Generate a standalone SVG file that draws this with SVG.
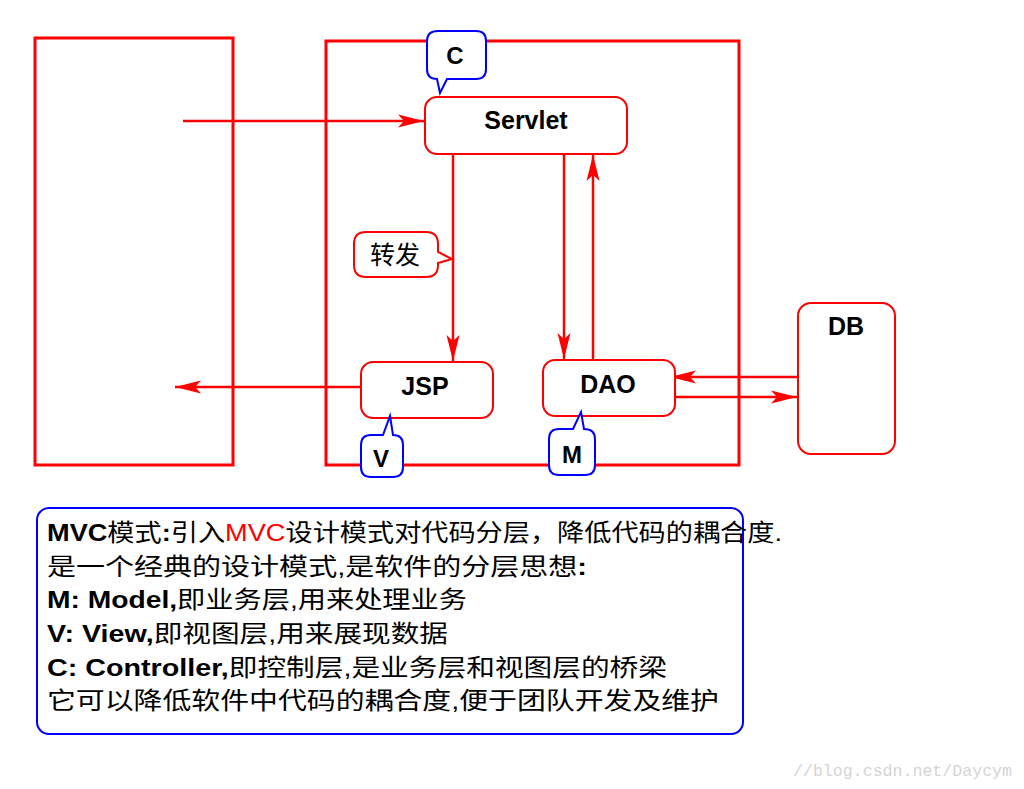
<svg xmlns="http://www.w3.org/2000/svg" width="1024" height="789" viewBox="0 0 1024 789">
<style>
.frame{fill:none;stroke:#ff0000;stroke-width:3}
.node{fill:#ffffff;stroke:#ff0000;stroke-width:2}
.call{fill:#ffffff;stroke:#0000ff;stroke-width:2}
.conn{fill:none;stroke:#ff0000;stroke-width:2.5}
.lbl{font-family:"Liberation Sans","Noto Sans CJK SC",sans-serif;font-weight:bold;font-size:25px;fill:#000;text-anchor:middle}
.cjk{font-family:"Liberation Sans","Noto Sans CJK SC",sans-serif;font-size:25px;fill:#000;text-anchor:middle}
.body{font-family:"Liberation Sans","Noto Sans CJK SC",sans-serif;font-size:24px;fill:#000}
.b{font-weight:bold}
.red{fill:#ff0000}
.wm{font-family:"Liberation Mono","DejaVu Sans Mono",monospace;font-size:16.6px;fill:#d4d4d4}
</style>
<defs>
<marker id="ah" viewBox="-27 -7 28 14" refX="0" refY="0" markerWidth="28" markerHeight="14" markerUnits="userSpaceOnUse" orient="auto">
<path d="M0,0 L-26,-6.5 L-20,0 L-26,6.5 Z" fill="#ff0000"/>
</marker>
</defs>
<rect width="1024" height="789" fill="#ffffff"/>
<g id="client"><rect class="frame" x="35" y="38" width="198" height="427"/></g>
<g id="server"><rect class="frame" x="326" y="41" width="413" height="424"/></g>
<g id="connectors">
<line class="conn" x1="183" y1="121" x2="424" y2="121" marker-end="url(#ah)"/>
<line class="conn" x1="453" y1="155" x2="453" y2="361" marker-end="url(#ah)"/>
<line class="conn" x1="564" y1="155" x2="564" y2="359" marker-end="url(#ah)"/>
<line class="conn" x1="593" y1="359" x2="593" y2="155" marker-end="url(#ah)"/>
<line class="conn" x1="361" y1="387" x2="175" y2="387" marker-end="url(#ah)"/>
<line class="conn" x1="798" y1="377" x2="670" y2="377" marker-end="url(#ah)"/>
<line class="conn" x1="673" y1="397" x2="797" y2="397" marker-end="url(#ah)"/>
</g>
<g id="servlet"><rect class="node" x="425" y="97" width="202" height="57" rx="12"/><text class="lbl" x="526" y="129">Servlet</text></g>
<g id="jsp"><rect class="node" x="361" y="362" width="132" height="56" rx="12"/><text class="lbl" x="425" y="395">JSP</text></g>
<g id="dao"><rect class="node" x="543" y="360" width="132" height="56" rx="12"/><text class="lbl" x="608" y="393">DAO</text></g>
<g id="db"><rect class="node" x="798" y="303" width="97" height="151" rx="13"/><text class="lbl" x="846" y="335">DB</text></g>
<g id="callout-forward"><path class="node" d="M366,232 H426 Q438,232 438,244 V252 L452,259 L438,263 V265 Q438,277 426,277 H366 Q354,277 354,265 V244 Q354,232 366,232 Z"/><text class="cjk" x="395" y="264">转发</text></g>
<g id="callout-c"><path class="call" d="M438,31 H476 Q486,31 486,41 V69 Q486,79 476,79 H447 L440,93 L437,79 Q427,79 427,69 V41 Q427,31 438,31 Z"/><text class="lbl" x="455" y="64" style="font-size:24px">C</text></g>
<g id="callout-v"><path class="call" d="M371,435 H383 L390,416 L393,435 Q403,435 403,445 V467 Q403,477 393,477 H371 Q361,477 361,467 V445 Q361,435 371,435 Z"/><text class="lbl" x="381" y="467" style="font-size:24px">V</text></g>
<g id="callout-m"><path class="call" d="M559,429 H573 L581,412 L584,429 Q595,429 595,439 V465 Q595,475 585,475 H559 Q549,475 549,465 V439 Q549,429 559,429 Z"/><text class="lbl" x="572" y="463" style="font-size:24px">M</text></g>
<g id="description">
<rect x="37" y="508" width="706" height="226" rx="12" fill="none" stroke="#0000ff" stroke-width="2"/>
<text class="body" x="47" y="541" textLength="735" lengthAdjust="spacingAndGlyphs"><tspan class="b">MVC</tspan>模式<tspan class="b">:</tspan>引入<tspan class="red">MVC</tspan>设计模式对代码分层，降低代码的耦合度.</text>
<text class="body" x="47" y="575" textLength="540" lengthAdjust="spacingAndGlyphs">是一个经典的设计模式,是软件的分层思想<tspan class="b">:</tspan></text>
<text class="body" x="47" y="608" textLength="420" lengthAdjust="spacingAndGlyphs"><tspan class="b">M: Model,</tspan>即业务层,用来处理业务</text>
<text class="body" x="47" y="642" textLength="401" lengthAdjust="spacingAndGlyphs"><tspan class="b">V: View,</tspan>即视图层,用来展现数据</text>
<text class="body" x="47" y="676" textLength="620" lengthAdjust="spacingAndGlyphs"><tspan class="b">C: Controller,</tspan>即控制层,是业务层和视图层的桥梁</text>
<text class="body" x="47" y="709" textLength="672" lengthAdjust="spacingAndGlyphs">它可以降低软件中代码的耦合度,便于团队开发及维护</text>
</g>
<text class="wm" x="793" y="776" textLength="219" lengthAdjust="spacingAndGlyphs">//blog.csdn.net/Daycym</text>
</svg>
